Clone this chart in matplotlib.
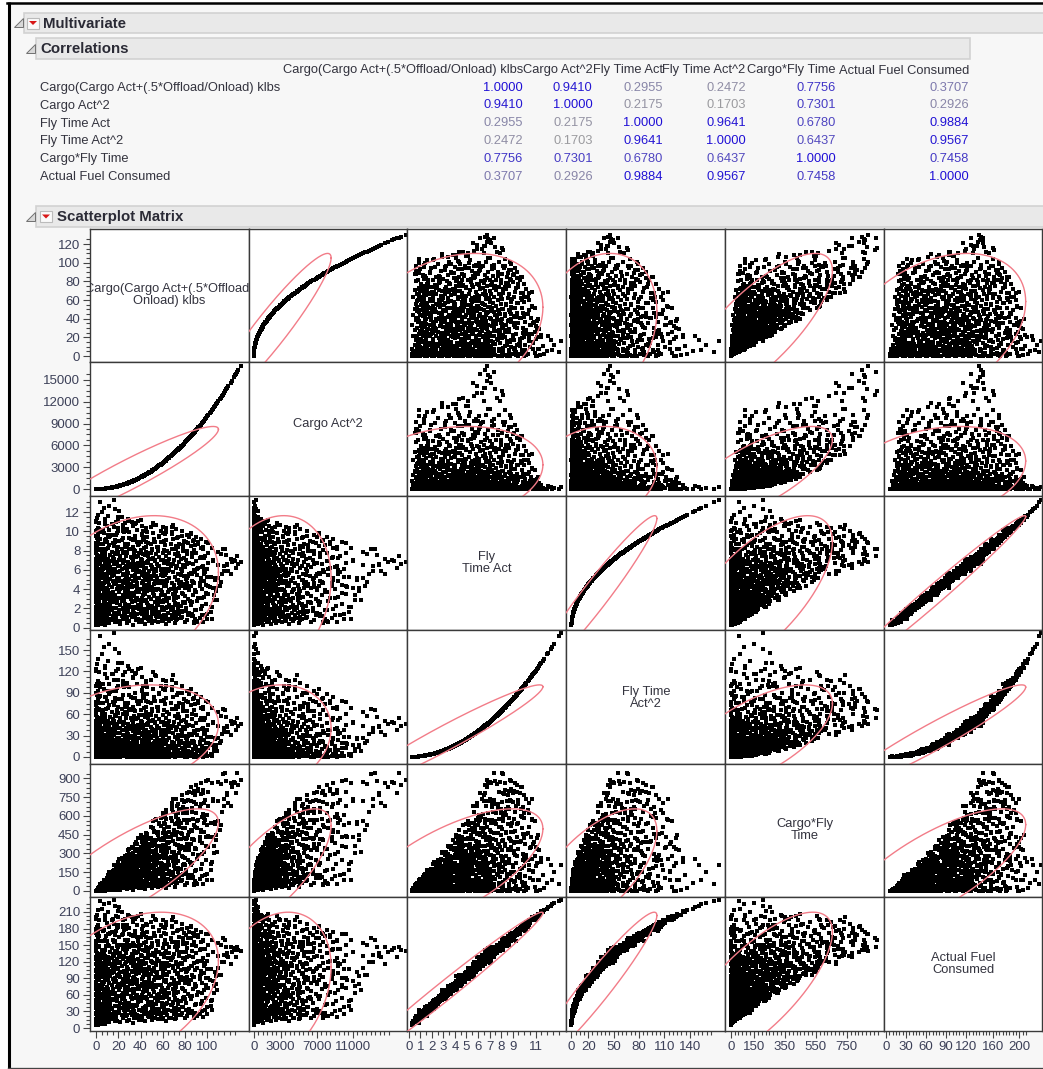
import numpy as np
import matplotlib
matplotlib.use("Agg")
import matplotlib.pyplot as plt
from matplotlib.patches import Rectangle, Polygon

plt.rcParams['font.family'] = ['Liberation Sans', 'DejaVu Sans']

# ---- values (estimated sample of the dense clouds) ----
cargo = [
 0,1,2,3,5,8,12,17,22,28,33,39,44,50,56,63,71,80,88,96,
 0,1,3,4,6,9,14,19,24,30,36,41,47,53,60,66,73,82,90,100,
 0,2,4,7,10,13,18,23,27,32,38,43,49,55,58,64,70,77,86,93,
 1,0,3,5,8,11,15,20,26,31,35,40,46,52,57,62,68,75,84,98,
 0,2,4,6,9,12,16,21,25,29,34,42,45,51,59,65,72,78,89,103,
 1,0,3,5,7,10,14,18,24,28,33,37,44,48,54,61,67,74,81,94,
 0,2,3,6,9,13,17,22,27,30,36,40,47,50,56,63,69,76,85,104,
 1,0,4,7,11,15,19,23,26,32,38,43,46,53,55,60,71,79,91,99,
 0,1,3,5,8,12,16,20,25,31,35,41,45,49,57,64,70,83,92,106,
 2,0,4,6,10,14,18,24,28,33,37,42,48,52,58,66,74,80,87,97,
 0,1,3,7,9,13,17,21,27,30,34,39,44,51,59,62,69,77,90,101,
 1,0,2,5,8,11,15,22,26,29,36,40,46,54,56,65,72,84,95,108,
 0,2,4,6,10,14,19,23,25,32,38,43,47,50,61,67,75,82,93,105,
 1,0,3,7,12,16,20,24,28,31,35,41,45,52,57,63,70,78,88,99,
 0,2,5,8,11,15,18,22,29,33,37,42,48,53,60,68,76,86,97,112,
 1,0,3,6,9,13,17,21,26,30,34,39,44,49,55,64,73,81,94,107,
 0,2,4,7,10,14,19,24,27,32,36,41,46,51,58,66,71,83,91,103,
 1,0,3,5,8,12,16,20,25,29,35,40,47,52,59,62,74,85,98,121,
 0,2,4,6,11,15,18,23,28,33,38,43,48,54,60,69,77,88,100,115,
 1,0,3,7,9,13,17,22,26,31,37,42,45,50,56,64,72,80,96,126,
 0,2,5,8,12,16,20,24,30,34,39,44,49,55,61,67,78,87,101,118,
 1,0,4,6,10,14,19,25,29,33,38,41,46,53,58,65,75,90,105,130,
 0,2,3,7,11,15,21,27,32,36,40,47,51,57,63,70,79,86,98,124,
 1,0,4,8,13,17,22,28,34,39,44,48,54,60,66,73,82,90,101,117,
 0,2,5,9,14,19,24,30,35,40,45,50,56,61,68,74,80,88,96,110,
 1,0,3,6,11,16,23,29,33,38,43,49,55,62,67,72,78,85,92,104,
 0,2,4,9,15,21,26,31,37,42,47,52,58,63,69,75,81,87,94,101,
 1,0,3,7,12,18,24,30,35,41,46,51,57,62,68,73,77,82,85,90,
 0,2,4,8,12,16,20,24,28,33,37,41,45,49,53,58,63,68,72,77,
 0,1,3,5,8,11,14,17,20,23,26,29,32,35,38,4,7,12,16,21,
 6.5,15.5,27,34.5,48,61.5,76,91,12,41,54,67,83,9,22,37,44,58,72,87,
 10.5,21,31.5,42,52.5,63,74.5,86,5,16,28,39,50,61,70,81,95,13.5,26,46,
 7.5,18.5,29.5,40.5,51.5,62.5,73.5,84.5,95.5,3,14,25,36,47,58,69,80,11,33,55,
 9.5,20.5,31,43,55,66,78,89,4.5,15,26,37,49,60,71,83,99,6,24,46,
 8,19,30.5,41.5,53,64,75.5,87,102,2.5,13,24.5,35.5,47.5,59,71,82,94,28,56,
 10,21.5,32.5,43.5,54.5,65.5,76.5,88.5,100,5.5,16.5,27.5,38.5,50.5,63,74,86,97,35,69,
 7,18,29,40,51,62,73,84,95,110,3.5,14.5,25.5,36.5,47,58.5,69.5,81,92,122,
 9,20,31,42,53,64,75,86,97,127,5,16,27,38,49,60,71,82,93,114,
 6,17,28,39,50,61,72,83,94,12,23,34,45,56,67,78,89,99,30,52,
 8,19,30,41,52,63,74,85,4,13,24,35,46,57,68,79,11,27,43,60,
 6,15,24,33,42,51,60,69,3,10,18,27,36,45,54,8,20,30,40,2,
 33,47,12,59,25,68,6,41,78,18,52,30,63,9,44,72,22,56,36,85,
 28,61,15,43,74,8,37,54,20,66,31,49,11,82,26,58,40,71,17,47,
 52,23,70,35,13,60,45,89,5,38,64,27,50,77,16,33,57,42,68,24,
 19,46,73,10,34,62,28,55,84,40,14,66,48,21,76,31,59,7,43,90,
 37,12,65,50,26,80,44,18,57,33,71,9,48,29,61,22,53,39,75,15,
 60,35,16,48,70,25,54,41,11,65,30,78,20,45,58,36,8,50,67,27,
 72,88,95,103,79,91,84,99,76,93,86,107,74,97,82,89,101,78,94,105,
 110,115,118,121,125,128,113,108,112,116,104,100,96,92,88,84,109,119,106,111,
 0,1,0,2,0,1,3,0,2,1,0,3,1,0,2,0,1,2,0,1,
]
fly_time = [
 .3,.4,.3,.5,.4,.3,.5,.6,.4,.5,.3,.6,.4,.5,.6,.4,.5,.6,.5,.6,
 .7,.6,.8,.6,.9,.7,.8,.6,.9,.7,.8,.6,.9,.7,.8,.7,.9,.8,.7,.9,
 1.0,.9,1.1,1.2,1.0,.9,1.1,1.2,1.0,1.1,.9,1.2,1.0,1.1,1.2,.9,1.0,1.1,1.2,1.0,
 1.3,1.4,1.2,1.5,1.3,1.4,1.2,1.5,1.3,1.4,1.2,1.5,1.3,1.4,1.5,1.2,1.3,1.4,1.5,1.3,
 1.6,1.7,1.5,1.8,1.6,1.7,1.5,1.8,1.6,1.7,1.5,1.8,1.6,1.7,1.8,1.5,1.6,1.7,1.8,1.6,
 1.9,2.0,1.8,2.1,1.9,2.0,1.8,2.1,1.9,2.0,1.8,2.1,1.9,2.0,2.1,1.8,1.9,2.0,2.1,1.9,
 2.2,2.3,2.1,2.4,2.2,2.3,2.1,2.4,2.2,2.3,2.1,2.4,2.2,2.3,2.4,2.1,2.2,2.3,2.4,2.2,
 2.5,2.7,2.4,2.8,2.5,2.7,2.6,2.8,2.5,2.7,2.4,2.8,2.6,2.7,2.5,2.8,2.6,2.7,2.8,2.5,
 2.9,3.0,2.8,3.1,2.9,3.0,2.8,3.1,2.9,3.0,2.8,3.1,2.9,3.0,3.1,2.8,2.9,3.0,3.1,2.9,
 3.2,3.3,3.1,3.4,3.2,3.3,3.1,3.4,3.2,3.3,3.1,3.4,3.2,3.3,3.4,3.1,3.2,3.3,3.4,3.2,
 3.5,3.6,3.4,3.7,3.5,3.6,3.4,3.7,3.5,3.6,3.4,3.7,3.5,3.6,3.7,3.4,3.5,3.6,3.7,3.5,
 3.8,3.9,3.7,4.0,3.8,3.9,3.7,4.0,3.8,3.9,3.7,4.0,3.8,3.9,4.0,3.7,3.8,3.9,4.0,3.8,
 4.1,4.2,4.0,4.3,4.1,4.2,4.0,4.3,4.1,4.2,4.0,4.3,4.1,4.2,4.3,4.0,4.1,4.2,4.3,4.1,
 4.4,4.5,4.3,4.6,4.4,4.5,4.3,4.6,4.4,4.5,4.3,4.6,4.4,4.5,4.6,4.3,4.4,4.5,4.6,4.4,
 4.7,4.8,4.6,4.9,4.7,4.8,4.6,4.9,4.7,4.8,4.6,4.9,4.7,4.8,4.9,4.6,4.7,4.8,4.9,4.7,
 5.0,5.1,4.9,5.2,5.0,5.1,4.9,5.2,5.0,5.1,4.9,5.2,5.0,5.1,5.2,4.9,5.0,5.1,5.2,5.0,
 5.3,5.4,5.2,5.5,5.3,5.4,5.2,5.5,5.3,5.4,5.2,5.5,5.3,5.4,5.5,5.2,5.3,5.4,5.5,5.3,
 5.6,5.7,5.5,5.8,5.6,5.7,5.5,5.8,5.6,5.7,5.5,5.8,5.6,5.7,5.8,5.5,5.6,5.7,5.8,5.6,
 5.9,6.0,5.8,6.1,5.9,6.0,5.8,6.1,5.9,6.0,5.8,6.1,5.9,6.0,6.1,5.8,5.9,6.0,6.1,5.9,
 6.2,6.3,6.1,6.4,6.2,6.3,6.1,6.4,6.2,6.3,6.1,6.4,6.2,6.3,6.4,6.1,6.2,6.3,6.4,6.2,
 6.5,6.6,6.4,6.7,6.5,6.6,6.4,6.7,6.5,6.6,6.4,6.7,6.5,6.6,6.7,6.4,6.5,6.6,6.7,6.5,
 6.8,6.9,6.7,7.0,6.8,6.9,6.7,7.0,6.8,6.9,6.7,7.0,6.8,6.9,7.0,6.7,6.8,6.9,7.0,6.8,
 7.1,7.3,7.0,7.4,7.1,7.3,7.0,7.4,7.2,7.3,7.1,7.4,7.2,7.3,7.4,7.0,7.2,7.3,7.4,7.0,
 7.5,7.7,7.4,7.8,7.5,7.7,7.4,7.8,7.6,7.7,7.5,7.8,7.6,7.7,7.8,7.4,7.6,7.7,7.8,7.5,
 7.9,8.1,7.8,8.2,7.9,8.1,7.8,8.2,8.0,8.1,7.9,8.2,8.0,8.1,8.2,7.8,8.0,8.1,8.2,7.9,
 8.3,8.5,8.2,8.7,8.3,8.5,8.2,8.7,8.4,8.6,8.3,8.7,8.4,8.6,8.7,8.2,8.4,8.5,8.7,8.3,
 8.8,9.0,8.7,9.2,8.8,9.0,8.7,9.2,8.9,9.1,8.8,9.2,8.9,9.1,9.2,8.7,8.9,9.0,9.2,8.8,
 9.3,9.5,9.2,9.8,9.4,9.6,9.3,9.9,9.5,9.7,9.4,9.8,9.5,9.7,9.9,9.3,9.5,9.6,9.8,9.4,
 10.0,10.3,9.9,10.8,10.1,10.4,10.0,10.7,10.2,10.5,10.1,10.6,10.2,10.4,10.7,10.0,10.3,10.4,10.2,10.0,
 11.0,11.4,10.9,12.0,11.2,11.6,10.8,12.3,11.1,11.5,10.9,11.3,11.0,10.8,11.1,13.0,12.4,12.6,13.2,12.1,
 .85,1.25,.95,1.15,.75,1.35,1.05,.65,1.45,.8,1.2,.9,1.3,1.1,.7,1.4,1,1.15,.85,1.25,
 1.55,1.85,1.35,1.95,1.65,1.25,1.75,1.45,2.05,1.15,1.6,1.9,1.4,1.8,1.5,1.7,1.3,2,1.55,1.65,
 2.15,2.85,2.35,2.65,2.05,2.95,2.45,2.75,2.25,2.55,3.05,2.1,2.9,2.4,2.7,2,2.6,3,2.2,2.8,
 3.15,3.85,3.35,3.65,3.05,3.95,3.45,3.75,3.25,3.55,4.05,3.1,3.9,3.4,3.7,3,3.6,4,3.2,3.8,
 4.15,4.85,4.35,4.65,4.05,4.95,4.45,4.75,4.25,4.55,5.05,4.1,4.9,4.4,4.7,4,4.6,5,4.2,4.8,
 5.15,5.85,5.35,5.65,5.05,5.95,5.45,5.75,5.25,5.55,6.05,5.1,5.9,5.4,5.7,5,5.6,6,5.2,5.8,
 6.15,6.85,6.35,6.65,6.05,6.95,6.45,6.75,6.25,6.55,7.05,6.1,6.9,6.4,6.7,6,6.6,7,6.2,6.8,
 7.15,7.85,7.35,7.65,7.05,7.95,7.45,7.75,7.25,7.4,8.05,7.1,7.9,7.4,7.7,7,7.6,8,7.2,8.2,
 8.15,8.85,8.35,8.65,8.05,8.95,8.45,8.75,8.25,8.55,9.05,8.1,8.9,8.4,8.7,8,8.6,8.9,8.2,9,
 9.15,9.85,9.35,9.65,9.05,9.95,9.45,9.75,9.25,9.55,10.05,9.1,9.9,9.4,9.7,9,9.6,10,9.2,9.8,
 10.1,10.8,10.3,10.6,10,10.9,10.4,10.7,10.2,10.5,11,10.15,10.85,10.35,10.65,11.3,11.5,11.1,11.2,11.7,
 1.12,2.38,3.62,.72,4.88,1.88,5.12,6.38,2.62,7.62,3.38,8.12,4.62,6.88,5.62,3.12,7.12,1.62,2.12,4.38,
 5.38,2.88,6.12,3.88,1.38,7.38,4.12,5.88,8.38,2.38,6.62,1.12,3.38,5.12,7.88,4.62,8.88,3.62,9.12,6.88,
 6.12,3.12,4.38,7.38,2.62,5.38,1.88,3.88,4.12,8.62,2.12,6.38,7.12,1.62,5.88,3.62,4.88,9.38,6.62,2.88,
 7.88,5.12,2.38,8.88,6.38,3.38,1.12,4.62,5.62,2.62,9.62,7.12,3.88,1.38,6.12,8.12,2.12,3.12,5.38,1.88,
 4.38,6.88,5.88,1.62,8.38,4.12,7.62,.88,6.38,9.12,3.38,2.38,5.12,3.88,1.12,7.38,8.88,2.88,4.62,5.62,
 2.62,6.12,4.88,7.12,3.12,9.88,5.38,1.38,3.62,6.62,2.12,4.38,10.38,8.38,3.88,5.88,6.38,.62,1.88,7.62,
 1.12,.62,3.12,2.12,5.38,6.12,4.12,3.62,7.12,4.62,2.62,5.12,8.38,5.62,6.62,.88,4.38,8.62,7.38,6.88,
 5.12,6.38,6.62,7.12,6.88,6.62,5.62,4.12,7.62,8.12,.88,1.38,8.38,8.88,9.12,9.38,2.88,5.88,3.38,4.38,
 1.38,3.12,5.12,6.88,8.12,9.38,2.12,4.38,7.38,10.12,.62,3.62,5.88,8.62,1.88,11.12,6.38,9.62,2.62,4.88,
]
fuel = [
 6,8,6,10,8,7,10,13,10,12,9,15,12,14,16,13,16,19,18,20,
 12,13,16,11,17,14,16,13,19,15,18,15,21,18,19,19,23,22,22,26,
 17,18,21,23,19,18,22,24,22,24,21,26,24,26,28,23,25,27,31,26,
 22,25,22,27,24,26,24,29,27,29,26,32,28,31,33,28,30,32,35,33,
 28,31,27,33,30,31,29,35,32,34,31,37,34,36,38,33,36,38,41,39,
 33,36,33,38,35,37,34,40,37,39,36,42,38,41,43,38,41,43,46,44,
 39,42,38,44,41,42,40,46,43,45,42,48,45,47,49,44,47,49,52,50,
 44,48,43,51,46,50,48,53,48,52,47,55,52,54,50,56,54,57,60,55,
 51,54,50,56,53,55,52,58,55,57,54,60,56,58,62,57,59,62,65,63,
 56,60,57,62,59,61,58,64,61,63,60,66,62,65,67,63,65,67,70,68,
 62,66,61,68,64,66,63,69,66,68,65,71,67,70,73,67,70,73,76,73,
 67,71,67,73,69,71,68,75,71,74,70,76,73,75,78,73,75,79,82,79,
 73,77,73,79,75,78,74,81,77,80,76,83,79,81,85,79,82,85,88,85,
 78,82,78,84,81,83,79,86,83,85,81,88,84,87,90,84,87,90,93,90,
 83,87,83,89,86,88,85,92,88,91,87,93,90,92,95,90,93,96,99,96,
 89,93,88,95,91,94,91,97,94,96,92,99,95,98,101,95,98,101,104,101,
 94,98,93,100,96,99,96,102,99,101,98,104,100,103,106,101,103,106,109,106,
 100,104,99,106,102,104,101,108,104,107,103,110,106,108,112,106,110,113,116,115,
 105,109,104,111,107,110,106,113,110,112,108,115,111,114,117,112,115,118,122,120,
 111,115,110,117,113,115,112,119,115,118,114,120,117,119,122,117,120,123,127,128,
 116,120,116,122,118,121,118,124,121,123,120,126,122,125,128,123,126,129,132,130,
 122,125,121,127,124,126,124,129,126,128,125,131,127,130,133,127,131,135,138,140,
 128,131,126,133,129,133,129,136,133,135,132,138,135,137,140,133,138,140,143,141,
 135,139,134,141,137,140,136,143,140,143,139,145,142,144,147,141,145,148,151,147,
 142,146,141,148,145,148,143,151,148,151,147,153,150,152,155,148,152,155,158,154,
 149,153,148,157,151,155,150,160,154,158,153,162,157,160,163,154,159,162,165,160,
 158,162,157,166,160,165,159,169,164,168,163,171,166,170,172,164,168,171,174,170,
 168,171,166,177,170,175,170,181,175,179,174,182,177,181,184,175,179,181,185,178,
 180,186,179,195,183,189,183,195,186,192,186,195,188,191,197,186,192,195,191,188,
 198,205,196,216,202,209,195,221,201,209,198,205,200,197,203,229,224,226,232,219,
 9,25,22,19,20,30,24,21,24,21,27,19,27,24,11,24,26,23,19,28,
 22,38,28,30,35,29,34,27,42,18,33,32,26,39,37,33,31,37,29,28,
 35,55,38,52,41,60,49,58,49,49,52,44,59,45,55,45,52,60,41,58,
 52,75,58,69,60,78,70,74,54,70,70,55,74,65,73,62,75,71,63,67,
 69,94,80,80,78,97,87,92,87,76,96,80,84,85,92,82,93,98,70,93,
 90,102,104,95,99,114,105,105,106,92,118,90,106,105,113,99,113,117,88,108,
 107,120,122,115,118,135,115,130,122,131,118,113,131,112,128,114,128,137,122,138,
 122,146,128,141,135,152,134,150,143,146,142,130,148,138,147,133,146,153,141,162,
 142,157,155,150,148,171,156,162,155,148,169,150,165,157,161,152,167,170,147,170,
 160,181,170,170,168,187,178,182,158,172,186,170,186,175,182,172,170,186,170,183,
 176,198,183,196,184,202,195,200,180,190,202,180,200,188,196,205,212,203,207,213,
 24,47,62,16,88,41,97,122,55,136,66,147,87,121,107,64,129,35,39,87,
 101,58,108,76,34,130,79,115,150,52,122,29,60,103,142,92,165,76,168,132,
 118,60,86,135,49,104,40,79,73,158,46,119,132,38,106,70,92,172,127,56,
 140,96,50,158,116,68,24,90,108,54,173,135,76,28,118,148,46,55,100,44,
 82,122,113,36,150,82,140,20,122,167,70,44,97,74,28,133,166,56,92,103,
 54,111,88,132,64,178,102,30,66,126,40,86,187,156,78,108,114,16,42,140,
 30,22,64,48,106,120,84,78,138,94,58,102,156,112,128,28,91,162,143,138,
 108,132,136,146,145,142,119,94,150,160,32,38,160,168,170,174,68,128,76,95,
 25,56,92,124,146,169,38,79,133,182,11,65,106,155,34,200,115,173,47,88,
]

short_names = ["Cargo(Cargo Act+(.5*Offload/Onload) klbs", "Cargo Act^2", "Fly Time Act",
               "Fly Time Act^2", "Cargo*Fly Time", "Actual Fuel Consumed"]
diag_labels = ["Cargo(Cargo Act+(.5*Offload/\nOnload) klbs", "Cargo Act^2", "Fly\nTime Act",
               "Fly Time\nAct^2", "Cargo*Fly\nTime", "Actual Fuel\nConsumed"]
corr_cargo  = [1.0000, 0.9410, 0.2955, 0.2472, 0.7756, 0.3707]
corr_cargo2 = [0.9410, 1.0000, 0.2175, 0.1703, 0.7301, 0.2926]
corr_fly    = [0.2955, 0.2175, 1.0000, 0.9641, 0.6780, 0.9884]
corr_fly2   = [0.2472, 0.1703, 0.9641, 1.0000, 0.6437, 0.9567]
corr_cf     = [0.7756, 0.7301, 0.6780, 0.6437, 1.0000, 0.7458]
corr_fuel   = [0.3707, 0.2926, 0.9884, 0.9567, 0.7458, 1.0000]
ell_mean = [28, 1873, 3.3, 27.7, 160, 70]
ell_sd   = [33.5, 2749, 3.4, 30, 203, 57]

x_labels = [[0,20,40,60,80,100], [0,3000,7000,11000], [0,1,2,3,4,5,6,7,8,9,11],
            [0,20,50,80,110,140], [0,150,350,550,750], [0,30,60,90,120,160,200]]
y_labels = [[0,20,40,60,80,100,120], [0,3000,6000,9000,12000,15000], [0,2,4,6,8,10,12],
            [0,30,60,90,120,150], [0,150,300,450,600,750,900], [0,30,60,90,120,150,180,210]]
x_major = [10, 1000, 1, 10, 50, 10]
x_max   = [125, 15000, 13, 165, 950, 210]
y_major = [20, 3000, 2, 30, 150, 30]
y_max   = [125, 16000, 13, 165, 950, 230]

# ---- layout (pixels) ----
W, H = 1043, 1069
col_edges = [90, 248.7, 407, 566.3, 725.3, 884, 1042]
row_edges = [228.5, 362.3, 496, 629.7, 763.7, 897, 1030.5]
x_lims = [(-5.4, 137.2), (-555, 17033), (-.15, 13.65), (-5.9, 182), (-35, 990), (-3, 234)]
y_lims = [(-6.7, 136.7), (-960, 17425), (-.2, 13.66), (-9.4, 178.5), (-48, 1018), (-4.5, 237)]
diag_y = [.5, .54, .5, .49, .5, .5]

fig = plt.figure(figsize=(W/100, H/100), dpi=100, facecolor='white')
bg = fig.add_axes([0, 0, 1, 1])
bg.set_xlim(0, W); bg.set_ylim(H, 0); bg.axis('off')
bg.add_patch(Rectangle((8.5, 3), W, 1064, fc='#f7f7f7', ec='none'))
bg.plot([8.5, 8.5], [2, 1068], color='black', lw=2.2, solid_capstyle='butt')
bg.plot([7, W], [3, 3], color='black', lw=1.8)
bg.plot([8, W], [1068, 1068], color='#444444', lw=1.0)

def header(x0, x1, y0, y1, tx, label, tri_x, btn_x=None):
    bg.add_patch(Rectangle((x0, y0), x1-x0, y1-y0, fc='#e9e9e9', ec='#d2d2d2', lw=1.2))
    s = 5
    cy = (y0+y1)/2
    bg.add_patch(Polygon([[tri_x+s, cy-s], [tri_x+s, cy+s-1], [tri_x-s+1, cy+s-1]], fc='#d8d8d8', ec='#707070', lw=.7))
    if btn_x is not None:
        bg.add_patch(Rectangle((btn_x-6, cy-5.5), 12, 11, fc='#fafafa', ec='#bbbbbb', lw=.8))
        bg.add_patch(Polygon([[btn_x-4, cy-2], [btn_x+4, cy-2], [btn_x, cy+2]], fc='#d81818', ec='none'))
    bg.text(tx, cy+.5, label, fontsize=10.8, fontweight='bold', color='#2a2a35', va='center', ha='left')

header(24, 1046, 13, 33, 43, "Multivariate", 18, 33)
header(36, 970, 38, 59, 40, "Correlations", 30)
header(36, 1046, 206, 227, 57, "Scatterplot Matrix", 30, 46)

# correlation table
col_right = [523, 592.7, 662.7, 745.7, 835.7, 969]
row_y = [88, 105.5, 123.5, 141, 159, 177]
TXT = '#33333e'
FS = 9.25
corr_rows = [corr_cargo, corr_cargo2, corr_fly, corr_fly2, corr_cf, corr_fuel]

def corr_color(v):
    gray = np.array([0.62, 0.62, 0.62])
    blue = np.array([0.12, 0.06, 0.84])
    t = (v - 0.15) / 0.85
    return tuple(gray + (blue - gray) * t)

for name, xr in zip(short_names, col_right):
    bg.text(xr, 70.5, name, fontsize=FS, color=TXT, ha='right', va='center')
for name, vals, y in zip(short_names, corr_rows, row_y):
    bg.text(40, y, name, fontsize=FS, color=TXT, ha='left', va='center')
    for v, xr in zip(vals, col_right):
        bg.text(xr, y, f"{v:.4f}", fontsize=FS, color=corr_color(v), ha='right', va='center')

# scatterplot matrix
cargo_a = np.array(cargo, float)
fly_a = np.array(fly_time, float)
columns = [cargo_a, cargo_a**2, fly_a, fly_a**2, cargo_a*fly_a, np.array(fuel, float)]
theta = np.linspace(0, 2*np.pi, 361)
C = np.sqrt(5.991)
LAB = '#3c4058'

for r in range(6):
    for c in range(6):
        x0, x1 = col_edges[c], col_edges[c+1]
        y0, y1 = row_edges[r], row_edges[r+1]
        ax = fig.add_axes([x0/W, 1-y1/H, (x1-x0)/W, (y1-y0)/H], facecolor='white')
        ax.set_xlim(*x_lims[c]); ax.set_ylim(*y_lims[r])
        for s in ax.spines.values():
            s.set_color('#3a3a3a'); s.set_linewidth(1.0)
        ax.set_xticks([]); ax.set_yticks([])
        if r == c:
            t = ax.text(0.5, diag_y[r], diag_labels[r], transform=ax.transAxes, ha='center', va='center',
                        fontsize=FS, color=TXT, linespacing=1.0, clip_on=True)
            t.set_clip_path(ax.patch)
        else:
            ax.scatter(columns[c], columns[r], s=5.0, marker='s', color='black', linewidths=0, zorder=2)
            rho = corr_rows[r][c]
            ex = ell_mean[c] + ell_sd[c]*C*np.cos(theta)
            ey = ell_mean[r] + ell_sd[r]*C*np.cos(theta + np.arccos(rho))
            ax.plot(ex, ey, color='#f27c88', lw=1.0, zorder=3)
        if c == 0:
            ax.set_yticks(y_labels[r])
            ax.set_yticklabels([str(v) for v in y_labels[r]], fontsize=9.5, color=LAB)
            ax.set_yticks(np.arange(0, y_max[r]+1e-9, y_major[r]/4), minor=True)
            ax.tick_params(axis='y', which='major', length=5, width=.8, color='#444444', pad=2)
            ax.tick_params(axis='y', which='minor', length=3, width=.8, color='#444444')
        if r == 5:
            ax.set_xticks(x_labels[c])
            ax.set_xticklabels([str(v) for v in x_labels[c]], fontsize=9.5, color=LAB)
            ax.set_xticks(np.arange(0, x_max[c]+1e-9, x_major[c]/2), minor=True)
            ax.tick_params(axis='x', which='major', length=5, width=.8, color='#444444', pad=2.5)
            ax.tick_params(axis='x', which='minor', length=3, width=.8, color='#444444')

fig.savefig('out.png', dpi=100, facecolor='white')
